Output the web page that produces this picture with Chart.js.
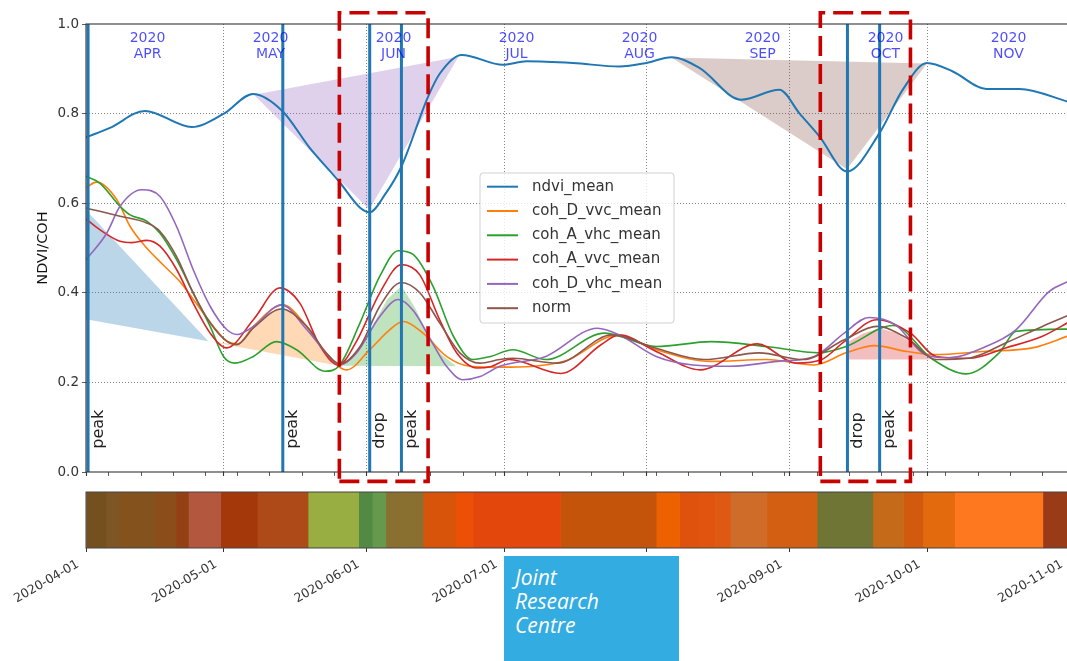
<!DOCTYPE html>
<html>
<head>
<meta charset="utf-8">
<script src="https://cdn.jsdelivr.net/npm/chart.js@4.4.1/dist/chart.umd.min.js"></script>
<style>
  html, body { margin: 0; padding: 0; background: #fff; overflow: hidden; }
  #wrap { position: relative; width: 1070px; height: 661px; }
  #top { position: absolute; left: 0; top: 0; }
  #strip { position: absolute; left: 0; top: 490px; }
  #jrc {
    position: absolute; left: 504px; top: 556px; width: 175px; height: 105px;
    background: #33ace1; color: #fff; box-sizing: border-box; padding: 9px 0 0 11px;
    font: italic 21px "Open Sans", sans-serif; line-height: 24px;
  }
</style>
</head>
<body>
<div id="wrap">
  <canvas id="top" width="1070" height="490"></canvas>
  <canvas id="strip" width="1070" height="171"></canvas>
  <div id="jrc">Joint<br>Research<br>Centre</div>
</div>
<script>
// Time axis: days since 2020-04-01 (2020-11-01 = day 214)
const monthStartDays = [0, 30, 61, 91, 122, 153, 183, 214];
const monthNames = ['APR', 'MAY', 'JUN', 'JUL', 'AUG', 'SEP', 'OCT', 'NOV'];
const yearLabel = '2020';
const stripTickLabels = ['2020-04-01', '2020-05-01', '2020-06-01', '2020-07-01',
                         '2020-08-01', '2020-09-01', '2020-10-01', '2020-11-01'];
const yTickValues = [0, 0.2, 0.4, 0.6, 0.8, 1.0];

// Series (day, value)
const ndviDays = [0, 5.2, 12.8, 23, 30, 36.3, 42.7, 48.7, 55, 59.6, 61.7, 65, 68.6, 74.4, 77, 81.7, 90.7, 95.8, 105.9, 116, 121.9, 127.3, 133.4, 142.5, 150.8, 155.2, 159.5, 165.5, 172.6, 177.6, 182.9, 188.5, 195.8, 203, 214];
const ndviVals = [0.747, 0.768, 0.806, 0.770, 0.800, 0.844, 0.806, 0.723, 0.649, 0.590, 0.580, 0.619, 0.682, 0.838, 0.890, 0.931, 0.909, 0.917, 0.913, 0.905, 0.913, 0.926, 0.902, 0.831, 0.853, 0.800, 0.749, 0.671, 0.757, 0.853, 0.913, 0.894, 0.855, 0.855, 0.825];

const cohDvvcDays = [0, 2.3, 6.7, 9.6, 13.2, 16.8, 20.4, 23.7, 27.7, 30.5, 33, 36.4, 42.8, 48, 51.6, 54.9, 56.7, 61.7, 66.1, 69, 73.3, 78.4, 83.5, 90, 104, 115.5, 124, 136, 148, 158.4, 165.3, 171.5, 178.5, 184.5, 195, 205.8, 214];
const cohDvvcVals = [0.635, 0.647, 0.608, 0.548, 0.500, 0.462, 0.425, 0.380, 0.325, 0.293, 0.286, 0.325, 0.373, 0.325, 0.273, 0.236, 0.228, 0.273, 0.318, 0.336, 0.310, 0.258, 0.236, 0.234, 0.247, 0.305, 0.273, 0.247, 0.251, 0.239, 0.266, 0.282, 0.269, 0.262, 0.269, 0.277, 0.305];

const cohAvhcDays = [0, 3, 7.4, 9.6, 13.2, 16.1, 19.7, 23.3, 27, 29.9, 32.4, 36.4, 41.4, 45.8, 52, 55.2, 59.6, 63.9, 67.9, 71.2, 75.5, 79.9, 84.2, 88, 92.8, 100, 112.8, 124, 136, 148, 159.5, 165.3, 175.5, 184.2, 191.4, 198.6, 202.3, 214];
const cohAvhcVals = [0.660, 0.645, 0.593, 0.574, 0.560, 0.533, 0.474, 0.400, 0.325, 0.258, 0.243, 0.258, 0.291, 0.273, 0.225, 0.239, 0.333, 0.437, 0.494, 0.485, 0.414, 0.303, 0.251, 0.258, 0.273, 0.251, 0.310, 0.280, 0.291, 0.280, 0.266, 0.280, 0.327, 0.251, 0.219, 0.266, 0.314, 0.319];

const cohAvvcDays = [0, 3, 7.4, 10, 13.2, 16.1, 19.7, 23.3, 27, 30.6, 36.4, 42.2, 46.5, 50.9, 54.9, 58.8, 63.9, 68.6, 72.6, 76.9, 80.6, 85, 88, 92, 103.3, 112, 116, 124, 133.6, 146, 154.4, 160, 164.9, 172, 179.3, 184.9, 192, 200, 208, 214];
const cohAvvcVals = [0.565, 0.541, 0.515, 0.512, 0.517, 0.504, 0.452, 0.377, 0.310, 0.277, 0.340, 0.411, 0.377, 0.281, 0.239, 0.291, 0.400, 0.463, 0.440, 0.340, 0.266, 0.232, 0.235, 0.251, 0.220, 0.284, 0.306, 0.269, 0.228, 0.286, 0.243, 0.251, 0.291, 0.340, 0.310, 0.258, 0.254, 0.277, 0.303, 0.336];

const cohDvhcDays = [0, 4.5, 7.4, 12.1, 16.1, 19.7, 23.3, 27, 30.6, 32.8, 36.4, 42.5, 48, 52.3, 55.2, 58.8, 63.9, 67.9, 71.2, 75.5, 78.4, 82, 85.7, 90, 100, 111.2, 116, 124, 132, 140, 150.4, 158.4, 164.9, 170.3, 176, 182.5, 187.5, 195, 202.3, 209.5, 214];
const cohDvhcVals = [0.474, 0.533, 0.593, 0.630, 0.615, 0.548, 0.452, 0.370, 0.318, 0.307, 0.325, 0.373, 0.318, 0.265, 0.239, 0.265, 0.347, 0.385, 0.360, 0.285, 0.236, 0.206, 0.213, 0.236, 0.258, 0.321, 0.306, 0.258, 0.239, 0.236, 0.247, 0.258, 0.310, 0.345, 0.329, 0.262, 0.255, 0.277, 0.318, 0.403, 0.427];

const normDays = [0, 3, 7.4, 13.2, 16.1, 19.7, 23.3, 27, 30.6, 32.8, 36.4, 42.5, 48, 52.3, 55.2, 59.6, 63.9, 68.6, 72.6, 76.9, 81.3, 85.7, 90, 92.8, 102.4, 114.4, 124, 134.4, 146.4, 156, 164.9, 172, 178.5, 184.9, 192, 200, 208, 214];
const normVals = [0.589, 0.582, 0.571, 0.556, 0.537, 0.481, 0.400, 0.333, 0.292, 0.284, 0.321, 0.364, 0.325, 0.265, 0.241, 0.280, 0.370, 0.423, 0.400, 0.333, 0.266, 0.243, 0.251, 0.254, 0.243, 0.306, 0.276, 0.251, 0.266, 0.251, 0.295, 0.325, 0.299, 0.251, 0.254, 0.288, 0.325, 0.351];

const seriesNames = ['ndvi_mean', 'coh_D_vvc_mean', 'coh_A_vhc_mean', 'coh_A_vvc_mean', 'coh_D_vhc_mean', 'norm'];
const seriesColors = ['#1f77b4', '#ff7f0e', '#2ca02c', '#d62728', '#9467bd', '#8c564b'];
const seriesDays = [ndviDays, cohDvvcDays, cohAvhcDays, cohAvvcDays, cohDvhcDays, normDays];
const seriesVals = [ndviVals, cohDvvcVals, cohAvhcVals, cohAvvcVals, cohDvhcVals, normVals];

// Detected events
const eventDays = [0.45, 42.8, 61.7, 68.6, 165.6, 172.6];
const eventNames = ['peak', 'peak', 'drop', 'peak', 'drop', 'peak'];

// Highlighted windows (day range) and their vertical extent
const windowStart = [55.1, 159.7];
const windowEnd = [74.4, 179.3];
const windowValueRange = [-0.021, 1.025];

// Shaded change areas, [day, value] vertices
const shadeBlue = [[0, 0.585], [26.6, 0.292], [0, 0.341]];
const shadeOrange = [[26.6, 0.292], [30, 0.288], [33, 0.284], [36.5, 0.318], [40, 0.355], [43, 0.368], [46, 0.345], [49.5, 0.300], [52.5, 0.262], [55, 0.237]];
const shadeGreen = [[55, 0.237], [58.8, 0.263], [62.4, 0.328], [65.5, 0.385], [68.6, 0.415], [71.5, 0.368], [74, 0.316], [77.3, 0.262], [80.5, 0.236]];
const shadePurple = [[36.5, 0.842], [81, 0.927], [61.6, 0.586]];
const shadeBrown = [[127.3, 0.925], [182.9, 0.912], [165.5, 0.676]];
const shadeRed = [[165.5, 0.251], [165.5, 0.289], [169, 0.309], [172.6, 0.321], [176, 0.311], [179.5, 0.289], [183.5, 0.251]];
const shadePolys = [shadeBlue, shadeOrange, shadeGreen, shadePurple, shadeBrown, shadeRed];
const shadeColors = ['rgba(31,119,180,0.3)', 'rgba(255,127,14,0.3)', 'rgba(44,160,44,0.3)',
                     'rgba(148,103,189,0.3)', 'rgba(140,86,75,0.3)', 'rgba(214,39,40,0.3)'];

// Classification strip: segment edges (days) and colours
const stripEdges = [0, 4.35, 7.2, 15.2, 19.6, 22.3, 29.3, 37.3, 48.3, 59.3, 62.3, 65.2, 73.3, 80.4, 84.2, 103.2, 124, 129.1, 133.1, 136.9, 140.1, 148.1, 159, 171.1, 177.8, 182, 188.9, 208.1, 214];
const stripColors = ['#75501f', '#7e5524', '#84521d', '#8b4e1a', '#943f14', '#b3583e', '#a5380b',
                     '#ad4a17', '#98ae42', '#538a43', '#67994c', '#8a7030', '#d9540b', '#ec5006',
                     '#e4470b', '#c4540a', '#ee6101', '#df520e', '#e1540f', '#de5912', '#cf6c29',
                     '#d25f12', '#6f7535', '#c56a19', '#d15a0e', '#e36a0d', '#fe781f', '#993b17'];

const FONT = '"DejaVu Sans", sans-serif';
const DAY_MAX = 214;

// weekly (Monday) minor ticks plus month starts
const weekTickDays = [];
for (let d = 5; d < DAY_MAX; d += 7) weekTickDays.push(d);
const topTickDays = Array.from(new Set([...monthStartDays, ...weekTickDays])).sort((a, b) => a - b);
const isInnerMonth = v => monthStartDays.includes(v) && v > 0 && v < DAY_MAX;

const toPoints = (xs, ys) => xs.map((x, i) => ({ x, y: ys[i] }));

const lineSets = seriesNames.map((name, i) => ({
  label: name,
  data: toPoints(seriesDays[i], seriesVals[i]),
  borderColor: seriesColors[i],
  borderWidth: i === 0 ? 2 : 1.6,
  pointRadius: 0,
  cubicInterpolationMode: 'monotone',
  fill: false,
  order: 10 - i
}));

const eventSets = eventDays.map(d => ({
  label: '',
  data: [{ x: d, y: 0 }, { x: d, y: 1 }],
  borderColor: '#1f77b4',
  borderWidth: 3,
  pointRadius: 0,
  fill: false,
  order: 0
}));

const gridColor = 'rgba(60,60,60,0.8)';

const decorPlugin = {
  id: 'decor',
  beforeDatasetsDraw(chart) {
    const { ctx, chartArea: a, scales: { x, y } } = chart;
    ctx.save();
    ctx.beginPath();
    ctx.rect(a.left, a.top, a.width, a.height);
    ctx.clip();
    shadePolys.forEach((poly, k) => {
      ctx.beginPath();
      poly.forEach(([d, v], i) => {
        const px = x.getPixelForValue(d), py = y.getPixelForValue(v);
        if (i) ctx.lineTo(px, py); else ctx.moveTo(px, py);
      });
      ctx.closePath();
      ctx.fillStyle = shadeColors[k];
      ctx.fill();
    });
    ctx.restore();
  },
  afterDatasetsDraw(chart) {
    const { ctx, chartArea: a, scales: { x, y } } = chart;
    ctx.save();
    // axes frame
    ctx.strokeStyle = '#333';
    ctx.lineWidth = 1.1;
    ctx.strokeRect(a.left, a.top, a.width, a.height);

    // event labels
    ctx.fillStyle = '#222';
    ctx.font = '16px ' + FONT;
    ctx.textAlign = 'left';
    ctx.textBaseline = 'top';
    eventDays.forEach((d, i) => {
      ctx.save();
      ctx.translate(x.getPixelForValue(d) + 2.5, y.getPixelForValue(0.052));
      ctx.rotate(-Math.PI / 2);
      ctx.fillText(eventNames[i], 0, 0);
      ctx.restore();
    });

    // highlighted windows
    ctx.strokeStyle = '#c80000';
    ctx.lineWidth = 3.6;
    ctx.setLineDash([20, 8]);
    windowStart.forEach((d0, i) => {
      const x0 = x.getPixelForValue(d0), x1 = x.getPixelForValue(windowEnd[i]);
      const y0 = y.getPixelForValue(windowValueRange[0]), y1 = y.getPixelForValue(windowValueRange[1]);
      ctx.beginPath();
      ctx.moveTo(x0, y0);
      ctx.lineTo(x1, y0);
      ctx.lineTo(x1, y1);
      ctx.lineTo(x0, y1);
      ctx.closePath();
      ctx.stroke();
    });
    ctx.restore();
  },
  afterDraw(chart) {
    const { ctx, chartArea: a, scales: { x } } = chart;
    ctx.save();
    // month captions
    ctx.fillStyle = 'rgba(0,0,255,0.7)';
    ctx.font = '14px ' + FONT;
    ctx.textAlign = 'center';
    ctx.textBaseline = 'middle';
    monthNames.forEach((m, i) => {
      const px = x.getPixelForValue((i + 0.5) * DAY_MAX / monthNames.length);
      ctx.fillText(yearLabel, px, a.top + 14);
      ctx.fillText(m, px, a.top + 30.5);
    });

    // legend
    const bx = a.left + 394, by = a.top + 149, bw = 194, bh = 150;
    ctx.beginPath();
    ctx.roundRect(bx, by, bw, bh, 3);
    ctx.fillStyle = 'rgba(255,255,255,0.8)';
    ctx.fill();
    ctx.strokeStyle = 'rgba(204,204,204,0.9)';
    ctx.lineWidth = 1;
    ctx.stroke();
    ctx.font = '15px ' + FONT;
    ctx.textAlign = 'left';
    ctx.textBaseline = 'middle';
    seriesNames.forEach((n, i) => {
      const yy = by + 13.7 + i * 24.3;
      ctx.strokeStyle = seriesColors[i];
      ctx.lineWidth = 2;
      ctx.beginPath();
      ctx.moveTo(bx + 7, yy);
      ctx.lineTo(bx + 38, yy);
      ctx.stroke();
      ctx.fillStyle = '#333';
      ctx.fillText(n, bx + 52, yy);
    });
    ctx.restore();
  }
};

new Chart(document.getElementById('top'), {
  type: 'line',
  data: { datasets: [...lineSets, ...eventSets] },
  options: {
    responsive: false,
    animation: false,
    devicePixelRatio: 1,
    layout: { padding: { top: 24, right: 0, bottom: 0, left: 0 } },
    plugins: { legend: { display: false }, tooltip: { enabled: false } },
    scales: {
      x: {
        type: 'linear', min: 0, max: DAY_MAX,
        afterBuildTicks: s => { s.ticks = topTickDays.map(v => ({ value: v })); },
        afterFit: s => { s.height = 18; },
        ticks: { display: false },
        grid: {
          color: c => (c.tick && isInnerMonth(c.tick.value)) ? gridColor : 'rgba(0,0,0,0)',
          lineWidth: 0.8,
          tickColor: '#333',
          tickLength: 4,
          tickWidth: c => (c.tick && monthStartDays.includes(c.tick.value)) ? 1.1 : 0.8
        },
        border: { display: false, dash: [1, 2] }
      },
      y: {
        type: 'linear', min: 0, max: 1,
        afterBuildTicks: s => { s.ticks = yTickValues.map(v => ({ value: v })); },
        afterFit: s => { s.width = 86; },
        ticks: {
          callback: v => v.toFixed(1),
          font: { family: FONT, size: 13.5 },
          color: '#333',
          padding: 3
        },
        title: {
          display: true, text: 'NDVI/COH',
          font: { family: FONT, size: 14.5 },
          color: '#111',
          padding: { top: 35, bottom: 0 }
        },
        grid: {
          color: c => (c.tick && c.tick.value > 0.01 && c.tick.value < 0.99) ? gridColor : 'rgba(0,0,0,0)',
          lineWidth: 0.8,
          tickColor: '#333',
          tickLength: 4
        },
        border: { display: false, dash: [1, 2] }
      }
    }
  },
  plugins: [decorPlugin]
});

const stripFrame = {
  id: 'stripFrame',
  afterDatasetsDraw(chart) {
    const { ctx, chartArea: a } = chart;
    ctx.save();
    ctx.strokeStyle = '#444';
    ctx.lineWidth = 1;
    ctx.strokeRect(a.left, a.top, a.width, a.height);
    ctx.restore();
  }
};

new Chart(document.getElementById('strip'), {
  type: 'bar',
  data: {
    labels: [''],
    datasets: stripColors.map((c, i) => ({
      data: [[stripEdges[i], stripEdges[i + 1]]],
      backgroundColor: c,
      borderWidth: 0,
      grouped: false,
      barPercentage: 1,
      categoryPercentage: 1
    }))
  },
  options: {
    indexAxis: 'y',
    responsive: false,
    animation: false,
    devicePixelRatio: 1,
    layout: { padding: { top: 2, left: 86, right: 0, bottom: 0 } },
    plugins: { legend: { display: false }, tooltip: { enabled: false } },
    scales: {
      x: {
        type: 'linear', min: 0, max: DAY_MAX,
        afterBuildTicks: s => { s.ticks = monthStartDays.map(v => ({ value: v })); },
        afterFit: s => { s.height = 113; s.paddingLeft = 0; s.paddingRight = 0; },
        ticks: {
          autoSkip: false, minRotation: 30, maxRotation: 30,
          callback: (v, i) => stripTickLabels[i],
          font: { family: FONT, size: 12.5 },
          color: '#333',
          padding: 5,
          labelOffset: -8
        },
        grid: { drawOnChartArea: false, tickLength: 4, tickColor: '#333' },
        border: { display: false }
      },
      y: { display: false }
    }
  },
  plugins: [stripFrame]
});
</script>
</body>
</html>
